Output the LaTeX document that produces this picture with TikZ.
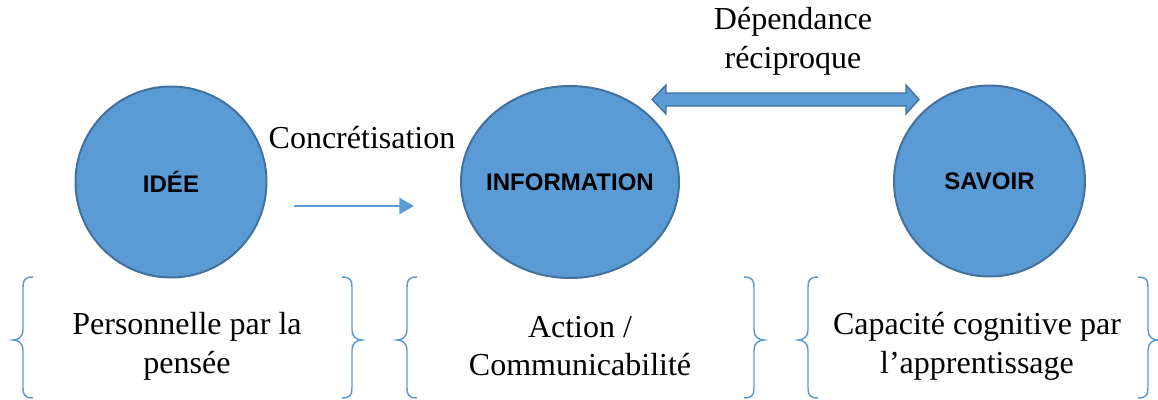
\documentclass[tikz,border=0pt]{standalone}
\usepackage{fontspec}
\setmainfont{Liberation Serif}
\setsansfont{Liberation Sans}
\usetikzlibrary{arrows.meta,calc,shapes.geometric}
\definecolor{blfill}{HTML}{5B9BD5}
\definecolor{bldraw}{HTML}{41719C}
\tikzset{
  bubble/.style={fill=blfill, draw=bldraw, line width=1.5pt, inner sep=0pt},
  bubbletext/.style={font=\sffamily\bfseries\fontsize{18}{20}\selectfont},
  bodytext/.style={font=\fontsize{24}{29}\selectfont, align=center, inner sep=0pt},
  bracestyle/.style={draw=blfill, line width=1.1pt},
  lbr/.pic={\draw[bracestyle] (20,0) .. controls (12,0) and (10,3) .. (10,10) -- (10,53) .. controls (10,60) and (5,63) .. (0,63) .. controls (5,63) and (10,66) .. (10,73) -- (10,111) .. controls (10,118) and (12,121) .. (20,121);},
  rbr/.pic={\draw[bracestyle] (0,0) .. controls (8,0) and (10,3) .. (10,10) -- (10,53) .. controls (10,60) and (15,63) .. (20,63) .. controls (15,63) and (10,66) .. (10,73) -- (10,111) .. controls (10,118) and (8,121) .. (0,121);},
  flowarrow/.style={draw=blfill, line width=2.2pt, -{Triangle[length=11pt,width=12pt]}}
}
\begin{document}
\begin{tikzpicture}[x=0.75pt,y=-0.75pt]
\useasboundingbox (0,0) rectangle (1158,400);
% circles
\node[bubble, circle, minimum size=191*0.75pt] (idee) at (171,182) {};
\node[bubble, ellipse, minimum width=218*0.75pt, minimum height=192*0.75pt] (info) at (570,182) {};
\node[bubble, circle, minimum size=191*0.75pt] (savoir) at (989.5,181) {};
\node[bubbletext] (ideeL) at (idee) {IDÉE};
\node[bubbletext] (infoL) at (info) {INFORMATION};
\node[bubbletext] (savoirL) at (savoir) {SAVOIR};
% concretisation arrow
\coordinate (a1) at (294,206);
\coordinate (a2) at (414,206);
\draw[flowarrow] (a1) -- (a2);
\node[bodytext] (concr) at (362,138) {Concrétisation};
% double arrow
\coordinate (d1) at (652,99.5);
\coordinate (d2) at (919,99.5);
\fill[blfill, draw=bldraw, line width=1pt] (d1) -- ++(14,-14.5) -- ++(0,8) -- ($(d2)+(-13,-6.5)$) -- ++(0,-8) -- (d2) -- ++(-13,14.5) -- ++(0,-8) -- ($(d1)+(14,6.5)$) -- ++(0,8) -- cycle;
\node[bodytext] (dep) at (793,41) {Dépendance\\réciproque};
% braces
\pic at (13,277) {lbr};
\pic at (342,277) {rbr};
\pic at (397,277) {lbr};
\pic at (744,277) {rbr};
\pic at (798,277) {lbr};
\pic at (1138,277) {rbr};
\node[bodytext] (t1) at (187,346) {Personnelle par la\\pensée};
\node[bodytext] (t2) at (580,346) {Action /\\Communicabilité};
\node[bodytext] (t3) at (977,346) {Capacité cognitive par\\l’apprentissage};
\end{tikzpicture}
\end{document}
